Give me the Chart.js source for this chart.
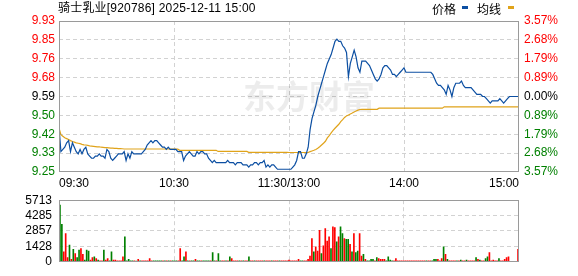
<!DOCTYPE html>
<html>
<head>
<meta charset="utf-8">
<script src="https://cdn.jsdelivr.net/npm/chart.js@4/dist/chart.umd.min.js"></script>
<style>
html,body{margin:0;padding:0;background:#fff;}
body{width:578px;height:276px;overflow:hidden;position:relative;}
#main{position:absolute;left:0;top:0;}
#vol{position:absolute;left:0;top:186px;}
</style>
</head>
<body>
<canvas id="main" width="578" height="192"></canvas>
<canvas id="vol" width="578" height="90"></canvas>
<script>
// ---------- data ----------
const stockTitle = '骑士乳业[920786] 2025-12-11 15:00';
const seriesNames = ['价格', '均线'];
const watermarkText = '东方财富';
const prevClose = 9.59;
const maxPct = 3.57;
const priceTickLabels = ['9.25','9.33','9.42','9.50','9.59','9.68','9.76','9.85','9.93'];
const pctTickLabels = ['3.57%','2.68%','1.79%','0.89%','0.00%','0.89%','1.79%','2.68%','3.57%'];
const timeTickIdx = [0, 60, 120, 180, 240];
const timeTickLabels = ['09:30','10:30','11:30/13:00','14:00','15:00'];
const volMax = 5713;
const volTickValues = [0, 1428, 2857, 4285, 5713];
const volTickLabels = ['0','1428','2857','4285','5713'];

const price = [
9.45,9.34,9.35,9.36,9.38,9.39,9.34,9.38,9.36,9.34,
9.33,9.35,9.33,9.35,9.36,9.33,9.32,9.31,9.31,9.32,
9.32,9.33,9.32,9.32,9.31,9.35,9.34,9.31,9.30,9.31,
9.32,9.33,9.33,9.33,9.34,9.30,9.33,9.31,9.34,9.33,
9.33,9.33,9.33,9.33,9.34,9.35,9.37,9.38,9.39,9.38,
9.39,9.39,9.38,9.37,9.36,9.36,9.35,9.36,9.35,9.35,
9.35,9.35,9.34,9.34,9.34,9.30,9.32,9.33,9.34,9.33,
9.32,9.32,9.34,9.33,9.34,9.34,9.33,9.33,9.31,9.30,
9.29,9.30,9.29,9.29,9.29,9.29,9.29,9.29,9.30,9.29,
9.29,9.29,9.28,9.29,9.29,9.29,9.28,9.28,9.28,9.27,
9.28,9.28,9.29,9.29,9.28,9.29,9.29,9.30,9.27,9.28,
9.27,9.28,9.28,9.27,9.26,9.26,9.26,9.26,9.26,9.26,
9.26,9.26,9.27,9.28,9.30,9.34,9.34,9.31,9.31,9.33,
9.36,9.44,9.49,9.52,9.55,9.59,9.62,9.65,9.68,9.71,
9.74,9.76,9.78,9.81,9.84,9.85,9.84,9.84,9.82,9.81,
9.79,9.68,9.74,9.77,9.80,9.77,9.72,9.70,9.75,9.75,
9.75,9.74,9.73,9.71,9.69,9.67,9.66,9.67,9.69,9.72,
9.73,9.73,9.72,9.71,9.69,9.69,9.68,9.69,9.70,9.71,
9.72,9.70,9.70,9.70,9.70,9.70,9.70,9.70,9.70,9.70,
9.70,9.70,9.70,9.70,9.70,9.69,9.67,9.65,9.64,9.64,
9.63,9.62,9.60,9.64,9.62,9.59,9.63,9.65,9.65,9.65,
9.66,9.64,9.63,9.63,9.63,9.63,9.62,9.61,9.60,9.60,
9.60,9.59,9.59,9.58,9.57,9.56,9.57,9.57,9.57,9.57,
9.58,9.57,9.56,9.57,9.58,9.59,9.59,9.59,9.59,9.59,
9.59
];

const avgPrice = [
9.447,9.417,9.410,9.403,9.399,9.395,9.390,9.386,9.383,9.380,
9.378,9.376,9.373,9.371,9.370,9.368,9.366,9.365,9.364,9.363,
9.362,9.362,9.360,9.359,9.358,9.358,9.357,9.356,9.356,9.355,
9.355,9.354,9.354,9.353,9.352,9.352,9.352,9.352,9.352,9.352,
9.352,9.352,9.352,9.352,9.352,9.352,9.352,9.352,9.352,9.352,
9.352,9.352,9.352,9.352,9.352,9.352,9.352,9.352,9.352,9.352,
9.352,9.351,9.351,9.346,9.346,9.346,9.346,9.346,9.346,9.346,
9.346,9.346,9.346,9.346,9.346,9.346,9.346,9.346,9.346,9.346,
9.346,9.346,9.346,9.341,9.341,9.341,9.341,9.341,9.341,9.341,
9.341,9.341,9.341,9.341,9.341,9.341,9.341,9.341,9.341,9.337,
9.337,9.337,9.337,9.337,9.337,9.337,9.337,9.337,9.337,9.337,
9.337,9.337,9.337,9.337,9.337,9.337,9.337,9.337,9.337,9.337,
9.336,9.336,9.336,9.336,9.336,9.336,9.336,9.336,9.336,9.336,
9.336,9.340,9.343,9.346,9.350,9.355,9.362,9.370,9.378,9.387,
9.402,9.413,9.425,9.436,9.446,9.455,9.464,9.476,9.485,9.495,
9.502,9.506,9.511,9.515,9.520,9.524,9.528,9.531,9.532,9.532,
9.532,9.532,9.532,9.532,9.532,9.532,9.532,9.537,9.537,9.537,
9.537,9.537,9.537,9.537,9.537,9.537,9.537,9.537,9.537,9.537,
9.537,9.537,9.537,9.537,9.537,9.537,9.537,9.537,9.537,9.537,
9.537,9.537,9.537,9.537,9.537,9.537,9.537,9.537,9.537,9.537,
9.537,9.543,9.543,9.543,9.543,9.543,9.543,9.543,9.543,9.543,
9.543,9.543,9.543,9.543,9.543,9.543,9.543,9.543,9.543,9.543,
9.543,9.543,9.543,9.543,9.543,9.543,9.543,9.543,9.543,9.543,
9.543,9.543,9.543,9.543,9.543,9.543,9.543,9.543,9.543,9.543,
9.543
];

const volume = [
5250,3470,930,2620,390,1540,230,1160,770,390,
1080,1230,690,150,1080,1000,150,390,460,310,
150,80,80,1080,150,310,80,930,150,150,
80,80,80,460,2320,80,230,80,80,80,
60,230,80,80,80,80,80,310,80,80,
80,80,80,80,80,80,80,80,80,80,
80,80,80,1230,80,460,930,80,80,80,
80,230,80,80,80,80,80,80,80,80,
850,80,80,770,80,80,80,80,80,460,
310,80,80,80,80,80,80,80,80,460,
80,80,80,80,80,80,80,80,80,80,
80,80,80,80,80,80,80,80,80,80,
150,80,80,80,80,230,80,80,80,80,
230,540,2160,930,1390,1000,2930,770,1470,3090,
1930,2320,1230,3240,3170,1850,2320,3240,2620,2160,
2080,2080,1620,930,2620,850,1000,2620,540,690,
230,80,80,230,230,80,390,310,230,230,
230,80,460,150,80,80,310,80,80,80,
80,80,80,80,80,80,80,80,80,80,
80,80,80,80,80,80,230,230,230,80,
310,1390,690,230,80,80,80,80,80,80,
150,80,80,150,80,80,80,80,390,230,
150,80,80,310,460,850,80,150,80,80,
310,80,80,230,390,460,0,0,0,0,
1160
];

// 1 = price up in that minute (red), -1 = down (green)
const volDir = [
-1,-1,1,1,1,-1,1,-1,1,-1,
-1,1,1,-1,-1,-1,1,1,-1,1,
-1,1,1,-1,1,1,-1,-1,1,1,
1,1,1,1,-1,-1,-1,-1,-1,1,
-1,1,-1,1,1,1,1,1,1,-1,
-1,-1,-1,-1,1,-1,1,-1,1,-1,
-1,-1,1,1,-1,-1,1,-1,1,-1,
-1,1,-1,-1,1,-1,-1,-1,-1,1,
-1,-1,1,-1,-1,1,1,-1,1,-1,
1,1,1,1,-1,1,-1,1,1,-1,
1,1,-1,1,1,1,1,-1,1,1,
1,-1,1,1,1,-1,1,1,1,1,
1,1,1,1,1,1,-1,-1,1,1,
1,1,1,-1,1,1,1,-1,1,1,
1,1,-1,1,1,-1,1,-1,-1,1,
-1,-1,1,-1,1,-1,-1,1,1,-1,
1,-1,-1,-1,-1,1,-1,1,1,1,
1,-1,-1,-1,-1,1,1,1,1,1,
1,1,1,1,1,1,1,1,1,1,
1,1,-1,1,1,-1,-1,-1,1,1,
1,-1,1,-1,1,1,1,1,-1,1,
-1,1,1,-1,1,1,1,1,-1,1,
-1,1,1,-1,-1,1,1,1,1,1,
-1,1,1,1,1,1,1,1,1,1,
1
];

// ---------- styles ----------
const RED = '#ff0000', GREEN = '#008000', BLACK = '#000000';
const PRICE_COLOR = '#0c4fa2', AVG_COLOR = '#e0a31a';
const GRID = '#d2d2d2', FRAME = '#9a9a9a';
const FONT = "'Liberation Sans', Arial, sans-serif";
const CJK = "'Liberation Sans', 'Noto Sans CJK SC', sans-serif";

const lo = prevClose * (1 - maxPct / 100);
const hi = prevClose * (1 + maxPct / 100);
const step = (hi - lo) / 8;

const framePlugin = {
  id: 'frame',
  afterDraw(chart) {
    const { ctx, chartArea: a } = chart;
    ctx.save();
    ctx.setLineDash([]);
    ctx.strokeStyle = FRAME;
    ctx.lineWidth = 1;
    ctx.strokeRect(Math.round(a.left) + 0.5, Math.round(a.top) + 0.5,
                   Math.round(a.right) - Math.round(a.left) - 1, Math.round(a.bottom) - Math.round(a.top) - 1);
    ctx.restore();
  }
};

const headerPlugin = {
  id: 'header',
  beforeDatasetsDraw(chart) {
    const ctx = chart.ctx;
    ctx.save();
    ctx.font = "bold 33px 'Noto Sans CJK SC', sans-serif";
    ctx.fillStyle = 'rgba(0,0,0,0.075)';
    ctx.textBaseline = 'middle';
    ctx.textAlign = 'left';
    ctx.fillText(watermarkText, 243, 96);
    ctx.restore();
  },
  afterDraw(chart) {
    const ctx = chart.ctx;
    ctx.save();
    ctx.textBaseline = 'middle';
    ctx.textAlign = 'left';
    ctx.fillStyle = BLACK;
    ctx.font = "12px " + CJK;
    if ('letterSpacing' in ctx) ctx.letterSpacing = '0.2px';
    ctx.fillText(stockTitle, 58, 9);
    if ('letterSpacing' in ctx) ctx.letterSpacing = '0px';
    ctx.font = "12px 'Noto Sans CJK SC', sans-serif";
    ctx.fillText(seriesNames[0], 432, 9);
    ctx.fillStyle = PRICE_COLOR;
    ctx.fillRect(462, 6, 6, 3);
    ctx.fillStyle = BLACK;
    ctx.fillText(seriesNames[1], 477, 9);
    ctx.fillStyle = AVG_COLOR;
    ctx.fillRect(508, 6, 6, 3);
    ctx.restore();
  }
};

const tickColor = (c) => c.index > 4 ? RED : (c.index < 4 ? GREEN : BLACK);
const priceTicks = (s) => { s.ticks = priceTickLabels.map((_, k) => ({ value: prevClose + (k - 4) * step })); };

new Chart(document.getElementById('main'), {
  type: 'line',
  data: {
    datasets: [
      {
        label: seriesNames[0],
        data: price.map((p, i) => ({ x: i, y: p })),
        borderColor: PRICE_COLOR, borderWidth: 1.2, pointRadius: 0, tension: 0, fill: false
      },
      {
        label: seriesNames[1],
        data: avgPrice.map((p, i) => ({ x: i, y: p })),
        borderColor: AVG_COLOR, borderWidth: 1.2, pointRadius: 0, tension: 0, fill: false
      }
    ]
  },
  options: {
    responsive: false, animation: false, events: [],
    layout: { padding: { top: 21, left: 0, right: 0, bottom: 0 } },
    plugins: { legend: { display: false }, tooltip: { enabled: false }, title: { display: false } },
    scales: {
      x: {
        type: 'linear', min: 0, max: 240, offset: false,
        afterBuildTicks: (s) => { s.ticks = timeTickIdx.map(v => ({ value: v })); },
        afterFit: (s) => { s.height = 20; },
        ticks: {
          autoSkip: false, maxRotation: 0, align: 'inner', padding: 4, color: BLACK,
          font: { family: FONT, size: 12 },
          callback: (v, idx) => timeTickLabels[idx]
        },
        grid: { drawTicks: false, color: (c) => (c.index === 0 || c.index === timeTickIdx.length - 1) ? 'rgba(0,0,0,0)' : GRID },
        border: { display: false, dash: [4, 3] }
      },
      y: {
        type: 'linear', position: 'left', min: lo, max: hi,
        afterBuildTicks: priceTicks,
        afterFit: (s) => { s.width = 59; },
        ticks: {
          autoSkip: false, padding: 4, color: tickColor,
          font: { family: FONT, size: 12 },
          callback: (v, idx) => priceTickLabels[idx]
        },
        grid: { drawTicks: false, color: (c) => (c.index === 0 || c.index === 8) ? 'rgba(0,0,0,0)' : GRID },
        border: { display: false, dash: [4, 3] }
      },
      y1: {
        type: 'linear', position: 'right', min: lo, max: hi,
        afterBuildTicks: priceTicks,
        afterFit: (s) => { s.width = 59; },
        ticks: {
          autoSkip: false, padding: 5, color: tickColor,
          font: { family: FONT, size: 12 },
          callback: (v, idx) => pctTickLabels[idx]
        },
        grid: { drawOnChartArea: false, drawTicks: false },
        border: { display: false }
      }
    }
  },
  plugins: [headerPlugin, framePlugin]
});

const minuteIdx = volume.map((_, i) => i);

new Chart(document.getElementById('vol'), {
  type: 'bar',
  data: {
    labels: minuteIdx,
    datasets: [{
      data: volume,
      backgroundColor: volDir.map(d => d > 0 ? RED : GREEN),
      barThickness: 1, borderWidth: 0
    }]
  },
  options: {
    responsive: false, animation: false, events: [],
    layout: { padding: { top: 10, left: 0, right: 59, bottom: 6 } },
    plugins: { legend: { display: false }, tooltip: { enabled: false } },
    scales: {
      x: {
        type: 'category', offset: true,
        afterBuildTicks: (s) => { s.ticks = timeTickIdx.slice(1, -1).map(v => ({ value: v })); },
        afterFit: (s) => { s.height = 0; },
        ticks: { display: false, autoSkip: false },
        grid: { offset: false, drawTicks: false, color: GRID },
        border: { display: false, dash: [4, 3] }
      },
      y: {
        type: 'linear', min: 0, max: volMax,
        afterBuildTicks: (s) => { s.ticks = volTickValues.map(v => ({ value: v })); },
        afterFit: (s) => { s.width = 59; },
        ticks: {
          autoSkip: false, padding: 7, color: BLACK,
          font: { family: FONT, size: 12 },
          callback: (v, idx) => volTickLabels[idx]
        },
        grid: { drawTicks: false, color: (c) => (c.index === 0 || c.index === volTickValues.length - 1) ? 'rgba(0,0,0,0)' : GRID },
        border: { display: false, dash: [4, 3] }
      }
    }
  },
  plugins: [framePlugin]
});
</script>
</body>
</html>
